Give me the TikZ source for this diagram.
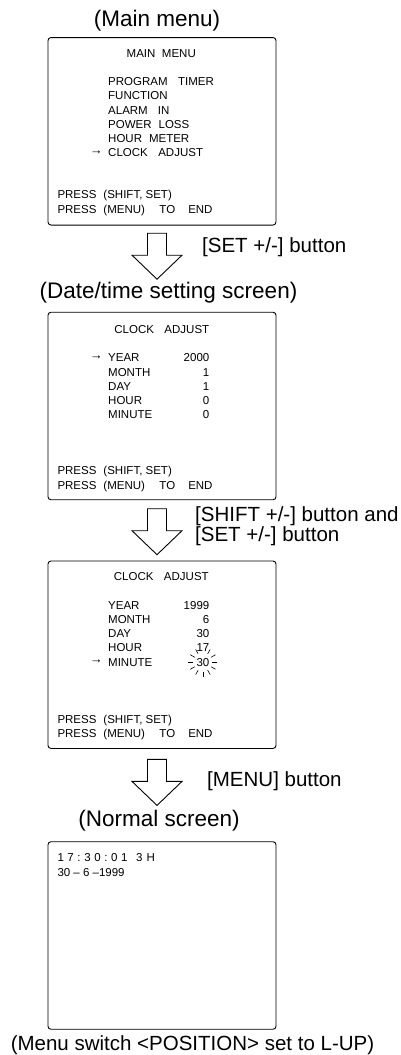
\documentclass[tikz,border=0pt]{standalone}
\usepackage{fontspec}
\setmainfont{Liberation Sans}
\usetikzlibrary{positioning,calc}

\newcommand{\scrfont}{\fontsize{11.5}{13}\selectfont}
\newcommand{\headfont}{\fontsize{22.5}{26}\selectfont}
\newcommand{\btnfont}{\fontsize{20.5}{24}\selectfont}
\newcommand{\gap}{\hspace{3.6pt}}
\newcommand{\pressset}{PRESS\hspace{7pt}(SHIFT, SET)}
\newcommand{\pressend}{PRESS\hspace{7pt}(MENU)\hspace{14.5pt}TO\hspace{13pt}END}

\tikzset{
  pics/hollowdown/.style={code={
    \draw[line width=0.9pt, line join=miter] (-9.5,0) -- (9.5,0) -- (9.5,22) -- (25,22) -- (0,46) -- (-25,22) -- (-9.5,22) -- cycle;
  }}
}

\begin{document}
\begin{tikzpicture}[
  x=1pt, y=-1pt,
  font=\scrfont,
  screen/.style={draw, line width=0.9pt, rounded corners=3pt, minimum width=228pt, minimum height=187.5pt, inner sep=0pt},
  heading/.style={font=\headfont, inner sep=0pt, text height=16.1pt, text depth=0pt},
  btnlabel/.style={font=\btnfont, anchor=west, inner sep=0pt, text height=14.7pt, text depth=0pt},
  item/.style={anchor=west, inner sep=0pt, text height=8.2pt, text depth=0pt},
  value/.style={anchor=east, inner sep=0pt, text height=8.2pt, text depth=0pt},
  pointer/.style={anchor=east, inner sep=0pt, font=\fontsize{13}{14}\selectfont}
]
\useasboundingbox (0,0) rectangle (401,1055);

% main menu
\node[heading] (mainttl) at (157,18.8) {(Main menu)};
\node[screen] (mainscr) at (162,131.3) {};
\node[item, anchor=center] (mainhd) at (161.3,53.3) {MAIN\hspace{6.5pt}MENU};
\foreach \txt [count=\i] in {PROGRAM\hspace{10.5pt}TIMER, FUNCTION, ALARM\hspace{10pt}IN,
    POWER\hspace{7pt}LOSS, HOUR\hspace{7pt}METER, CLOCK\hspace{10.5pt}ADJUST}
  \node[item] (menu\i) at (108,{81.3+14.3*(\i-1)}) {\txt};
\node[pointer] (menuptr) at ($(menu6.west)+(-5,0)$) {→};
\node[item] (mainpa) at (57.3,194.5) {\pressset};
\node[item] (mainpb) at (57.3,209) {\pressend};

\pic at ($(mainscr.south)+(-5,7.7)$) {hollowdown};
\node[btnlabel] (setlbl) at (202,245.5) {[SET +/-] button};

% date/time setting
\node[heading] (datettl) at (168.5,290.5) {(Date/time setting screen)};
\node[screen] (datescr) at (162,406) {};
\node[item, anchor=center] (datehd) at (161.8,329.7) {CLOCK\hspace{10.5pt}ADJUST};
\foreach \lab/\val [count=\i] in {YEAR/2000, MONTH/1, DAY/1, HOUR/0, MINUTE/0} {
  \node[item] (date\i) at (108,{357.8+14.2*(\i-1)}) {\lab};
  \node[value] (dateval\i) at (209.5,{357.8+14.2*(\i-1)}) {\val};
}
\node[pointer] (dateptr) at ($(date1.west)+(-5,0)$) {→};
\node[item] (datepa) at (57.3,470.5) {\pressset};
\node[item] (datepb) at (57.3,485) {\pressend};

\pic at ($(datescr.south)+(-5,8.5)$) {hollowdown};
\node[btnlabel] (shiftlbl) at (195,514.5) {[SHIFT +/-] button and};
\node[btnlabel] (setlblb) at (195,534.5) {[SET +/-] button};

% changed values
\node[screen] (editscr) at (162,654.7) {};
\node[item, anchor=center] (edithd) at (161.3,576.8) {CLOCK\hspace{10.5pt}ADJUST};
\foreach \lab/\val [count=\i] in {YEAR/1999, MONTH/6, DAY/30, HOUR/17, MINUTE/30} {
  \node[item] (edit\i) at (108,{605+14.25*(\i-1)}) {\lab};
  \node[value] (editval\i) at (209.5,{605+14.25*(\i-1)}) {\val};
}
\node[pointer] (editptr) at ($(edit5.west)+(-5,0)$) {→};
\foreach \a in {0,30,60,120,150,180,210,240,270,300,330}
  \draw[line width=0.6pt] (editval5.center) ++(-\a:9.5) -- ++(-\a:5);
\node[item] (editpa) at (57.3,719) {\pressset};
\node[item] (editpb) at (57.3,733.5) {\pressend};

\pic at ($(editscr.south)+(-5,10.5)$) {hollowdown};
\node[btnlabel] (menulbl) at (207,779) {[MENU] button};

% normal screen
\node[heading] (normttl) at (159,818) {(Normal screen)};
\node[screen] (normscr) at (162,935.5) {};
\node[item] (clockln) at (57.3,857) {1\gap7\gap:\gap3\gap0\gap:\gap0\gap1\hspace{8.7pt}3\hspace{4pt}H};
\node[item] (dateln) at (57.3,872) {30 – 6 –1999};
\node[btnlabel, anchor=center] (posnote) at (192.5,1043) {(Menu switch <POSITION> set to L-UP)};
\end{tikzpicture}
\end{document}
